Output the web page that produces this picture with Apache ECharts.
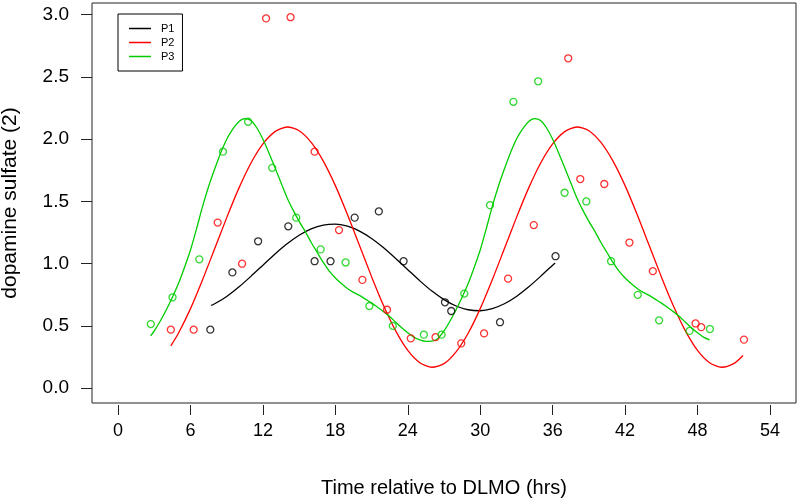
<!DOCTYPE html>
<html>
<head>
<meta charset="utf-8">
<script src="https://cdn.jsdelivr.net/npm/echarts@6/dist/echarts.min.js"></script>
<style>html,body{margin:0;padding:0;background:#fff}#c{width:800px;height:499px}</style>
</head>
<body>
<div id="c"></div>
<script>
// ---- data ----
const seriesNames = ['P1', 'P2', 'P3'];
const xTicks = [0, 6, 12, 18, 24, 30, 36, 42, 48, 54];
const yTicks = [0, 0.5, 1, 1.5, 2, 2.5, 3];

const p1Time = [7.64, 9.47, 11.6, 14.1, 16.28, 17.6, 19.6, 21.6, 23.65, 27.08, 27.6, 31.64, 36.24];
const p1Value = [0.47, 0.93, 1.18, 1.30, 1.02, 1.02, 1.37, 1.42, 1.02, 0.69, 0.62, 0.53, 1.06];

const p2Time = [4.37, 6.26, 8.25, 10.27, 12.26, 14.29, 16.28, 18.3, 20.24, 22.28, 24.25, 26.3, 28.43, 30.32, 32.31, 34.44, 37.29, 38.29, 40.28, 42.36, 44.3, 47.84, 48.31, 51.85];
const p2Value = [0.47, 0.47, 1.33, 1.00, 2.97, 2.98, 1.90, 1.27, 0.87, 0.63, 0.40, 0.41, 0.36, 0.44, 0.88, 1.31, 2.65, 1.68, 1.64, 1.17, 0.94, 0.52, 0.49, 0.39];

const p3Time = [2.71, 4.51, 6.73, 8.69, 10.77, 12.77, 14.76, 16.78, 18.85, 20.82, 22.76, 25.33, 26.8, 28.68, 30.81, 32.75, 34.8, 36.99, 38.79, 40.84, 43.05, 44.82, 47.34, 49.03];
const p3Value = [0.515, 0.73, 1.035, 1.90, 2.14, 1.77, 1.37, 1.115, 1.01, 0.66, 0.50, 0.43, 0.43, 0.76, 1.47, 2.30, 2.465, 1.57, 1.50, 1.02, 0.75, 0.545, 0.46, 0.475];

// fitted curves, [time, value]
const p1Fit = [[7.7,0.664],[8,0.678],[9,0.737],[10,0.812],[11,0.898],[12,0.988],[13,1.078],[14,1.160],[15,1.229],[16,1.280],[17,1.310],[18,1.318],[19,1.301],[20,1.262],[21,1.203],[22,1.128],[23,1.042],[24,0.952],[25,0.862],[26,0.780],[27,0.711],[28,0.660],[29,0.630],[30,0.622],[31,0.639],[32,0.678],[33,0.737],[34,0.812],[35,0.898],[36,0.988],[36.2,1.006]];

const p2Fit = [[4.37,0.340],[5,0.441],[6,0.639],[7,0.871],[8,1.120],[9,1.370],[10,1.605],[11,1.807],[12,1.962],[13,2.061],[14,2.098],[15,2.068],[16,1.974],[17,1.824],[18,1.627],[19,1.395],[20,1.146],[21,0.896],[22,0.662],[23,0.460],[24,0.303],[25,0.204],[26,0.168],[27,0.197],[28,0.292],[29,0.441],[30,0.639],[31,0.871],[32,1.120],[33,1.370],[34,1.605],[35,1.807],[36,1.962],[37,2.061],[38,2.098],[39,2.068],[40,1.974],[41,1.824],[42,1.627],[43,1.395],[44,1.146],[45,0.896],[46,0.662],[47,0.460],[48,0.303],[49,0.204],[50,0.168],[51,0.197],[51.77,0.263]];

const p3Fit = [[2.7,0.42],[3,0.46],[3.5,0.54],[4,0.63],[4.5,0.73],[5,0.84],[5.5,0.97],[6,1.11],[6.5,1.28],[7,1.46],[7.5,1.62],[8,1.76],[8.5,1.89],[9,2.00],[9.5,2.08],[10,2.14],[10.5,2.165],[11,2.15],[11.5,2.09],[12,2.00],[12.5,1.89],[13,1.77],[13.5,1.65],[14,1.53],[14.5,1.43],[15,1.34],[15.5,1.26],[16,1.17],[16.5,1.09],[17,1.01],[17.5,0.94],[18,0.885],[18.5,0.84],[19,0.80],[19.5,0.77],[20,0.745],[20.5,0.715],[21,0.685],[21.5,0.65],[22,0.615],[22.5,0.575],[23,0.53],[23.5,0.485],[24,0.445],[24.5,0.41],[25,0.388],[25.5,0.376],[26,0.378],[26.5,0.40],[27,0.46],[27.5,0.54],[28,0.63],[28.5,0.73],[29,0.84],[29.5,0.97],[30,1.11],[30.5,1.28],[31,1.46],[31.5,1.62],[32,1.76],[32.5,1.89],[33,2.00],[33.5,2.08],[34,2.14],[34.5,2.165],[35,2.15],[35.5,2.09],[36,2.00],[36.5,1.89],[37,1.77],[37.5,1.65],[38,1.53],[38.5,1.43],[39,1.34],[39.5,1.26],[40,1.17],[40.5,1.09],[41,1.01],[41.5,0.94],[42,0.885],[42.5,0.84],[43,0.80],[43.5,0.77],[44,0.745],[44.5,0.715],[45,0.685],[45.5,0.65],[46,0.615],[46.5,0.575],[47,0.53],[47.5,0.485],[48,0.445],[48.5,0.41],[49,0.388]];

// ---- styling ----
const colors = ['#000000', '#ff0000', '#00cd00'];
const font = "'Liberation Sans', Arial, sans-serif";

function pts(xs, ys) { return xs.map((x, i) => [x, ys[i]]); }
const pointSets = [pts(p1Time, p1Value), pts(p2Time, p2Value), pts(p3Time, p3Value)];
const fitSets = [p1Fit, p2Fit, p3Fit];

const series = [];
seriesNames.forEach((n, i) => {
  series.push({
    name: n, type: 'line', data: fitSets[i], showSymbol: false, smooth: 0.25,
    lineStyle: { color: colors[i], width: 1.3 }, itemStyle: { color: colors[i] },
    z: 2, silent: true, animation: false
  });
  series.push({
    name: n, type: 'scatter', data: pointSets[i], symbol: 'circle', symbolSize: 7,
    itemStyle: { color: 'rgba(0,0,0,0)', borderColor: colors[i], borderWidth: 1.3 },
    z: 3, silent: true, animation: false
  });
});

const chart = echarts.init(document.getElementById('c'), null, { renderer: 'canvas' });
chart.setOption({
  animation: false,
  backgroundColor: '#fff',
  grid: { left: 92, right: 4, top: 3, bottom: 96, show: true, borderColor: '#222', borderWidth: 1,
    backgroundColor: 'transparent', containLabel: false, outerBoundsMode: 'none' },
  legend: {
    data: seriesNames.map((n, i) => ({ name: n, icon: 'rect', itemStyle: { color: colors[i], borderWidth: 0 } })),
    orient: 'vertical', left: 118, top: 14,
    itemWidth: 22, itemHeight: 1.5, itemGap: 3,
    padding: [9, 8, 9, 11],
    borderColor: '#000', borderWidth: 1,
    selectedMode: false,
    textStyle: { fontFamily: font, fontSize: 11, color: '#000', lineHeight: 11, padding: [0, 0, 0, 5] }
  },
  xAxis: {
    type: 'value', min: -2.16, max: 56.16, offset: 2,
    name: 'Time relative to DLMO (hrs)', nameLocation: 'middle', nameGap: 73,
    nameTextStyle: { fontFamily: font, fontSize: 20, color: '#000' },
    axisLine: { show: false, onZero: false },
    axisTick: { show: true, length: 10, customValues: xTicks, lineStyle: { color: '#222' } },
    axisLabel: { customValues: xTicks, fontFamily: font, fontSize: 18, color: '#000', margin: 17 },
    splitLine: { show: false }
  },
  yAxis: {
    type: 'value', min: -0.119, max: 3.094,
    name: 'dopamine sulfate (2)', nameLocation: 'middle', nameGap: 71,
    nameTextStyle: { fontFamily: font, fontSize: 21, color: '#000' },
    axisLine: { show: false, onZero: false },
    axisTick: { show: true, length: 11, customValues: yTicks, lineStyle: { color: '#222' } },
    axisLabel: { customValues: yTicks, fontFamily: font, fontSize: 19, color: '#000', margin: 23,
      formatter: v => v.toFixed(1) },
    splitLine: { show: false }
  },
  series: series
});
</script>
</body>
</html>
